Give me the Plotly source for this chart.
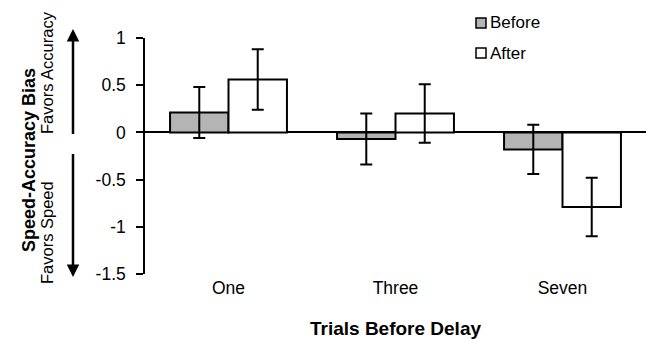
import plotly.graph_objects as go

categories = ["One", "Three", "Seven"]
series_names = ["Before", "After"]
before = [0.21, -0.07, -0.18]
after = [0.56, 0.20, -0.79]
before_err = [0.27, 0.27, 0.26]
after_err = [0.32, 0.31, 0.31]
ytick_vals = [1, 0.5, 0, -0.5, -1, -1.5]
ytick_text = ["1", "0.5", "0", "-0.5", "-1", "-1.5"]

FONT = "Arial, Liberation Sans, sans-serif"
FILLS = ["#b4b4b4", "white"]

fig = go.Figure()
for name, vals, errs, fill in zip(series_names, [before, after], [before_err, after_err], FILLS):
    fig.add_trace(go.Bar(
        name=name, x=categories, y=vals, showlegend=False,
        marker=dict(color=fill, line=dict(color="black", width=2)),
        error_y=dict(type="data", array=errs, color="black", thickness=2, width=6),
    ))

W, H = 646, 339
L, R, T, B = 145, 0, 38, 65
pw = W - L - R
ph = H - T - B

def px(x):
    return (x - L) / pw

def py(y):
    return (H - B - y) / ph

annotations = [
    dict(text="<b>Speed-Accuracy Bias</b>", x=px(29), y=py(160), xref="paper", yref="paper",
         xanchor="center", yanchor="middle",
         textangle=-90, showarrow=False, font=dict(size=18, color="black", family=FONT)),
    dict(text="Favors Accuracy", x=px(47), y=py(73), xref="paper", yref="paper",
         xanchor="center", yanchor="middle",
         textangle=-90, showarrow=False, font=dict(size=16.5, color="black", family=FONT)),
    dict(text="Favors Speed", x=px(47), y=py(233), xref="paper", yref="paper",
         xanchor="center", yanchor="middle",
         textangle=-90, showarrow=False, font=dict(size=16.5, color="black", family=FONT)),
    dict(text=" ", x=px(73), y=py(29), xref="paper", yref="paper", showarrow=True,
         font=dict(size=1), borderpad=0,
         ax=0, ay=106, arrowhead=2, arrowsize=1, arrowwidth=2.5, arrowcolor="black"),
    dict(text=" ", x=px(73), y=py(277), xref="paper", yref="paper", showarrow=True,
         font=dict(size=1), borderpad=0,
         ax=0, ay=-124, arrowhead=2, arrowsize=1, arrowwidth=2.5, arrowcolor="black"),
]

# manual legend
shapes = []
for i, (name, fill) in enumerate(zip(series_names, FILLS)):
    cy = 23 + 30 * i
    shapes.append(dict(type="rect", xref="paper", yref="paper",
                       x0=px(476), x1=px(486), y0=py(cy + 5), y1=py(cy - 5),
                       fillcolor=fill, line=dict(color="black", width=1.5)))
    annotations.append(dict(text=name, x=px(488), y=py(cy), xref="paper", yref="paper",
                            xanchor="left", yanchor="middle", showarrow=False,
                            font=dict(size=17, color="black", family=FONT)))

fig.update_layout(
    width=W, height=H,
    margin=dict(l=L, r=R, t=T, b=B, autoexpand=False),
    paper_bgcolor="white", plot_bgcolor="white",
    barmode="group", bargap=0.3, bargroupgap=0,
    font=dict(family=FONT, size=15, color="black"),
    showlegend=False,
    annotations=annotations,
    shapes=shapes,
    xaxis=dict(showline=False, ticks="", showgrid=False, zeroline=False, automargin=False,
               range=[-0.5, 2.5], tickfont=dict(size=17.5), ticklabelstandoff=1,
               title=dict(text="<b>Trials Before Delay</b>", font=dict(size=19), standoff=28)),
    yaxis=dict(range=[-1.5, 1], tickvals=ytick_vals, ticktext=ytick_text, automargin=False,
               showline=True, linecolor="black", linewidth=1.5,
               ticks="outside", ticklen=7, tickwidth=1.5, tickcolor="black",
               ticklabelstandoff=7,
               showgrid=False, zeroline=True, zerolinecolor="black", zerolinewidth=1.5,
               tickfont=dict(size=17.5)),
)

fig.write_html(
    "out.html",
    config={"displayModeBar": False},
    post_script="document.body.style.margin='0';document.body.style.overflow='hidden';",
)
